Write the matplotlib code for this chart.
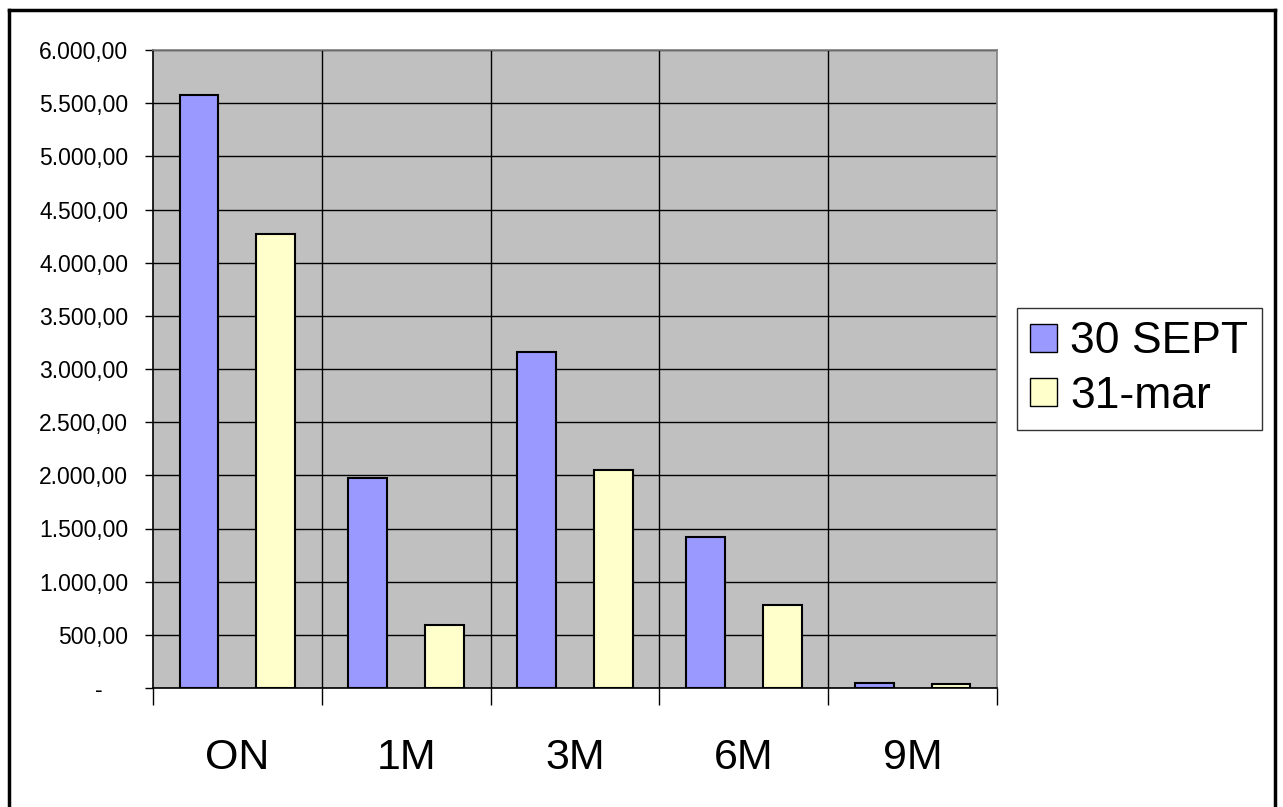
import matplotlib.pyplot as plt
import numpy as np
from matplotlib.lines import Line2D
from matplotlib.ticker import FuncFormatter

plt.rcParams["font.family"] = ["Liberation Sans", "DejaVu Sans"]

categories = ["ON", "1M", "3M", "6M", "9M"]
series_names = ["30 SEPT", "31-mar"]
sept_values = [5580, 1975, 3160, 1420, 50]
mar_values = [4270, 590, 2050, 785, 38]
y_ticks = np.arange(0, 6001, 500)

BLUE = "#9999FF"
CREAM = "#FFFFCC"


def fmt_amount(value, _pos):
    # European accounting style: dot thousands, comma decimals, dash for zero
    if value == 0:
        return "-    "
    text = f"{value:,.2f}"
    return text.replace(",", "X").replace(".", ",").replace("X", ".")


fig = plt.figure(figsize=(12.83, 8.07), dpi=100)
ax = fig.add_axes([153 / 1283, 1 - 688 / 807, (997 - 153) / 1283, (688 - 50) / 807])
ax.set_facecolor("#C0C0C0")

x = np.arange(len(categories))
width = 0.23
offset = 0.228
ax.bar(x - offset, sept_values, width, color=BLUE, edgecolor="black", linewidth=1.5,
       label=series_names[0], zorder=3)
ax.bar(x + offset, mar_values, width, color=CREAM, edgecolor="black", linewidth=1.5,
       label=series_names[1], zorder=3)

ax.set_xlim(-0.5, len(categories) - 0.5)
ax.set_ylim(0, 6000)

# horizontal gridlines at every y tick, vertical ones at category boundaries
ax.set_yticks(y_ticks)
ax.yaxis.set_major_formatter(FuncFormatter(fmt_amount))
ax.grid(axis="y", color="black", linewidth=1, zorder=1)
boundaries = np.arange(len(categories) + 1) - 0.5
for b in boundaries[1:-1]:
    ax.axvline(b, color="black", linewidth=1, zorder=1)

ax.set_xticks(boundaries)
ax.set_xticklabels([])
ax.set_xticks(x, minor=True)
ax.set_xticklabels(categories, minor=True, fontsize=31)
ax.tick_params(axis="x", which="major", length=12, width=1, color="black")
ax.tick_params(axis="x", which="minor", length=0, pad=36)
ax.tick_params(axis="y", length=6, width=1, labelsize=16.5, pad=12)
ax.set_axisbelow(True)

for side in ["top", "right"]:
    ax.spines[side].set_color("#808080")
    ax.spines[side].set_linewidth(1.2)
for side in ["left", "bottom"]:
    ax.spines[side].set_color("black")
    ax.spines[side].set_linewidth(1.2)

handles = [
    plt.Rectangle((0, 0), 1, 1, facecolor=BLUE, edgecolor="black", linewidth=1),
    plt.Rectangle((0, 0), 1, 1, facecolor=CREAM, edgecolor="black", linewidth=1),
]
leg = fig.legend(handles, series_names, loc="center left",
                 bbox_to_anchor=(1017 / 1283, 1 - 369 / 807),
                 fontsize=32, frameon=True, fancybox=False, borderpad=0.3,
                 handlelength=0.6, handleheight=0.6, handletextpad=0.3,
                 labelspacing=0.3, borderaxespad=0)
leg.get_frame().set_edgecolor("black")
leg.get_frame().set_linewidth(1)

# outer chart border
W, H = 1283, 807
for xs, ys in [((9, 9), (10, 812)), ((9, 1275), (10, 10)), ((1275, 1275), (10, 812))]:
    fig.add_artist(Line2D([v / W for v in xs], [1 - v / H for v in ys],
                          color="black", linewidth=2.5))

fig.savefig("out.png", dpi=100)
